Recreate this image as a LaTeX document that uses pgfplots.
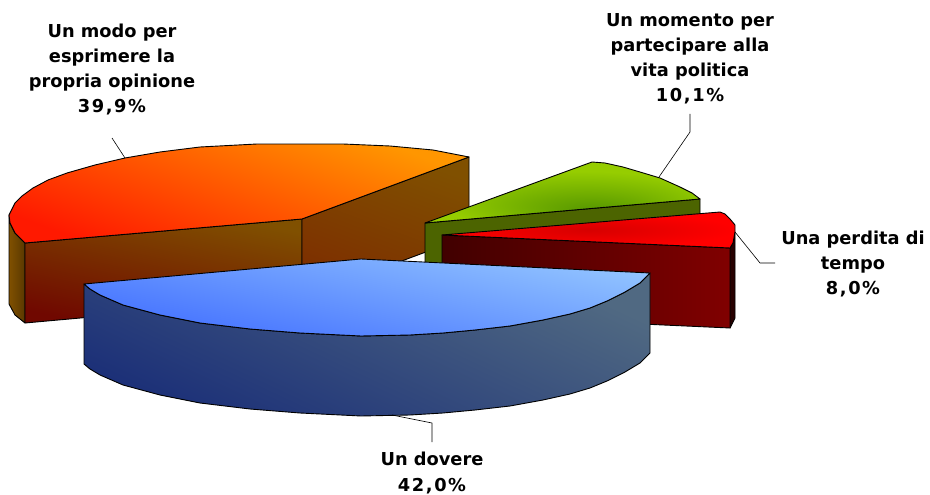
\documentclass[border=0pt]{standalone}
\usepackage{pgfplots}
\pgfplotsset{compat=1.18}
\usepackage{fontspec}
\setmainfont{DejaVu Sans}
\definecolor{orA}{RGB}{255,150,0}
\definecolor{orB}{RGB}{255,125,0}
\definecolor{orC}{RGB}{255,25,0}
\definecolor{osT}{RGB}{128,80,0}
\definecolor{osB}{RGB}{112,8,0}
\definecolor{osM}{RGB}{125,45,0}
\definecolor{grL}{RGB}{150,205,0}
\definecolor{grD}{RGB}{85,150,0}
\definecolor{grS}{RGB}{76,100,0}
\definecolor{reD}{RGB}{215,0,0}
\definecolor{rsL}{RGB}{65,0,0}
\definecolor{rsR}{RGB}{128,0,0}
\definecolor{blL}{RGB}{145,195,255}
\definecolor{blD}{RGB}{65,110,255}
\definecolor{bsL}{RGB}{80,105,130}
\definecolor{bsD}{RGB}{28,48,120}
\pgfdeclareradialshading{greenS}{\pgfpoint{6bp}{-15bp}}{color(0bp)=(grD); color(25bp)=(grL); color(50bp)=(grL)}
\tikzset{lab/.style={font=\bfseries\fontsize{17.8}{25}\selectfont, align=center, text=black, inner sep=0pt, anchor=center}}
\newcommand\pct[1]{{\addfontfeature{LetterSpace=9}#1}}
\begin{document}
\begin{tikzpicture}[x=1pt,y=1pt]
\useasboundingbox (0,0) rectangle (930,495);
\begin{axis}[
  at={(0,0)}, anchor=south west,
  scale only axis, width=930pt, height=495pt,
  xmin=0, xmax=930, ymin=0, ymax=495, y dir=reverse,
  axis lines=none, clip=false,
  every axis plot/.append style={line width=0.9pt, draw=black, line join=round, mark=none}
]
% orange left small side
\addplot[left color=osT, right color=osT!70!black] coordinates {(9,215)(10,223)(15,233)(25,243)(25,323)(15,315)(9,304)} -- cycle;
% orange front face
\addplot[top color=osT, bottom color=osB, shading angle=-12] coordinates {(25,243)(302,219)(302,298)(25,323)} -- cycle;
% orange right face
\addplot[top color=osT, bottom color=osM, shading angle=-20] coordinates {(302,219)(469,157)(469,236)(302,298)} -- cycle;
% orange top
\addplot[top color=orA, middle color=orB, bottom color=orC, shading angle=-20] coordinates {(469,157)(433,150)(390,146)(343,144)(300,144)(257,144)(200,147)(160,152)(125,158)(95,165)(67,173)(48,180)(33,188)(22,196)(15,203)(9,215)(10,223)(15,233)(25,243)(302,219)} -- cycle;
% green side
\addplot[fill=grS] coordinates {(425,223)(700,199)(700,278)(425,302)} -- cycle;
% green top
\addplot[shading=greenS] coordinates {(425,223)(592,162)(605,163)(623,167)(640,172)(660,178)(680,187)(692,193)(700,199)} -- cycle;
% red side small
\addplot[fill=rsL!60!black] coordinates {(730,248)(733,243)(735,232)(735,318)(730,328)} -- cycle;
% red side
\addplot[left color=rsL, right color=rsR] coordinates {(442,235)(730,248)(730,328)(442,315)} -- cycle;
% red top
\addplot[shading=radial, inner color=reD, outer color=red] coordinates {(442,235)(720,212)(725,214)(730,219)(735,225)(735,232)(733,243)(730,248)} -- cycle;
% blue side
\addplot[top color=bsL, bottom color=bsD, shading angle=-25] coordinates {(84,284)(90,289)(100,295)(123,305)(160,315)(200,323)(250,329)(300,333)(361,336)(410,335)(443,333)(475,330)(510,326)(543,320)(570,314)(590,308)(607,301)(625,292)(640,283)(650,273)(650,353)(640,363)(625,372)(607,381)(590,388)(570,394)(543,400)(510,406)(475,410)(443,413)(410,415)(361,416)(300,413)(250,409)(200,403)(160,395)(123,385)(100,375)(90,369)(84,364)} -- cycle;
% blue top
\addplot[top color=blL, bottom color=blD, shading angle=-12] coordinates {(84,284)(361,259)(650,273)(640,283)(625,292)(607,301)(590,308)(570,314)(543,320)(510,326)(475,330)(443,333)(410,335)(361,336)(300,333)(250,329)(200,323)(160,315)(123,305)(100,295)(90,289)} -- cycle;
% leader lines
\addplot[line width=0.6pt, no marks] coordinates {(125,158)(112,138)};
\addplot[line width=0.6pt, no marks] coordinates {(659,177)(690,132)(690,114)};
\addplot[line width=0.6pt, no marks] coordinates {(735,232)(760,263)(775,263)};
\addplot[line width=0.6pt, no marks] coordinates {(392,415)(432,423)(432,442)};
% labels
\node[lab] at (axis cs:112,70) {Un modo per\\esprimere la\\propria opinione\\\pct{39,9\%}};
\node[lab] at (axis cs:690,59) {Un momento per\\partecipare alla\\vita politica\\\pct{10,1\%}};
\node[lab] at (axis cs:853,264) {Una perdita di\\tempo\\\pct{8,0\%}};
\node[lab] at (axis cs:432,473) {Un dovere\\\pct{42,0\%}};
\end{axis}
\end{tikzpicture}
\end{document}
